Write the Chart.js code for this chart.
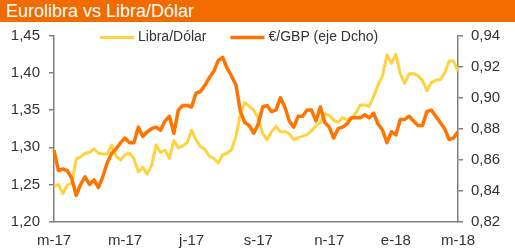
<!DOCTYPE html>
<html><head><meta charset="utf-8">
<script src="https://cdn.jsdelivr.net/npm/chart.js@4.4.1/dist/chart.umd.min.js"></script>
<style>
html,body{margin:0;padding:0;background:#fff;}
#wrap{position:relative;width:515px;height:251px;overflow:hidden;}
#title{position:absolute;left:0;top:0;width:515px;height:22px;background:#F26B00;color:#fff;font:18px "Liberation Sans",Arial,sans-serif;line-height:22px;padding-left:6px;box-sizing:border-box;white-space:nowrap;}
canvas{position:absolute;left:0;top:0;}
</style></head><body>
<div id="wrap"><canvas id="c" width="515" height="251"></canvas><div id="title">Eurolibra vs Libra/Dólar</div></div>
<script>
// Dates (sampled every ~4 days)
const dates = [
"2017-03-01","2017-03-05","2017-03-09","2017-03-13","2017-03-17","2017-03-21","2017-03-25","2017-03-29",
"2017-04-02","2017-04-06","2017-04-10","2017-04-14","2017-04-18","2017-04-22","2017-04-26","2017-04-30",
"2017-05-04","2017-05-08","2017-05-12","2017-05-16","2017-05-20","2017-05-24","2017-05-28",
"2017-06-01","2017-06-05","2017-06-09","2017-06-13","2017-06-17","2017-06-21","2017-06-25","2017-06-29",
"2017-07-03","2017-07-07","2017-07-11","2017-07-15","2017-07-19","2017-07-23","2017-07-27","2017-07-31",
"2017-08-04","2017-08-08","2017-08-12","2017-08-16","2017-08-20","2017-08-24","2017-08-28",
"2017-09-01","2017-09-05","2017-09-09","2017-09-13","2017-09-17","2017-09-21","2017-09-25","2017-09-29",
"2017-10-03","2017-10-07","2017-10-11","2017-10-15","2017-10-19","2017-10-23","2017-10-27","2017-10-31",
"2017-11-04","2017-11-08","2017-11-12","2017-11-16","2017-11-20","2017-11-24","2017-11-28",
"2017-12-02","2017-12-06","2017-12-10","2017-12-14","2017-12-18","2017-12-22","2017-12-26","2017-12-30",
"2018-01-03","2018-01-07","2018-01-11","2018-01-15","2018-01-19","2018-01-23","2018-01-27","2018-01-31",
"2018-02-04","2018-02-08","2018-02-12","2018-02-16","2018-02-20","2018-02-24","2018-03-01"
];

// Libra/Dólar (left axis)
const libraDolar = [
1.247,1.250,1.238,1.249,1.252,1.284,1.287,1.292,1.293,1.298,1.292,1.291,1.291,1.303,1.288,1.283,
1.290,1.292,1.285,1.267,1.273,1.264,1.276,1.303,1.293,1.296,1.285,1.309,1.299,1.302,1.306,1.323,
1.310,1.301,1.297,1.288,1.285,1.279,1.290,1.292,1.297,1.315,1.345,1.360,1.355,1.350,1.339,1.319,
1.310,1.321,1.328,1.321,1.321,1.318,1.310,1.313,1.315,1.317,1.322,1.329,1.333,1.345,1.343,1.336,
1.334,1.340,1.337,1.339,1.346,1.357,1.357,1.355,1.368,1.384,1.396,1.424,1.413,1.425,1.399,1.386,
1.399,1.399,1.396,1.390,1.376,1.387,1.390,1.391,1.400,1.416,1.416,1.402
];

// €/GBP (right axis)
const eurGbp = [
0.866,0.853,0.854,0.853,0.848,0.837,0.844,0.849,0.844,0.847,0.842,0.849,0.858,0.864,0.867,0.871,
0.874,0.871,0.871,0.881,0.875,0.878,0.880,0.881,0.879,0.885,0.888,0.877,0.892,0.895,0.895,0.894,
0.903,0.904,0.908,0.913,0.917,0.924,0.926,0.919,0.914,0.908,0.891,0.884,0.882,0.877,0.883,0.894,
0.895,0.891,0.892,0.900,0.894,0.885,0.881,0.888,0.888,0.892,0.892,0.885,0.894,0.884,0.881,0.874,
0.880,0.881,0.883,0.887,0.887,0.887,0.889,0.887,0.890,0.883,0.879,0.871,0.878,0.876,0.886,0.886,
0.888,0.885,0.882,0.882,0.891,0.892,0.888,0.884,0.880,0.873,0.874,0.878
];

const seriesNames = ["Libra/Dólar", "€/GBP (eje Dcho)"];
const monthInitials = ["e","f","m","a","m","j","j","a","s","o","n","d"];
const leftTicks = {min:1.20, max:1.45, step:0.05};
const rightTicks = {min:0.82, max:0.94, step:0.02};

const YELLOW = "#FFD23F", ORANGE = "#FF7300", AXIS = "#808080", TXT = "#333333";
const FONT = "'Liberation Sans', Arial, sans-serif";

const fmt = v => v.toFixed(2).replace(".", ",");

const legendPlugin = {
  id: "manualLegend",
  afterDraw(chart) {
    const ctx = chart.ctx;
    ctx.save();
    ctx.font = "14px " + FONT;
    ctx.textBaseline = "middle";
    const y = 37.5;
    let x = 100;
    const items = [{label: seriesNames[0], color: YELLOW, w: 3}, {label: seriesNames[1], color: ORANGE, w: 3.5}];
    items.forEach((it) => {
      ctx.strokeStyle = it.color;
      ctx.lineWidth = it.w;
      ctx.beginPath(); ctx.moveTo(x, y); ctx.lineTo(x + 34, y); ctx.stroke();
      ctx.fillStyle = TXT;
      ctx.fillText(it.label, x + 38, y);
      x += 38 + ctx.measureText(it.label).width + 24;
    });
    ctx.restore();
  }
};

new Chart(document.getElementById("c"), {
  type: "line",
  data: {
    labels: dates,
    datasets: [
      {label: seriesNames[1], data: eurGbp, yAxisID: "yR", borderColor: ORANGE, borderWidth: 3.5, pointRadius: 0, tension: 0, borderJoinStyle: "round"},
      {label: seriesNames[0], data: libraDolar, yAxisID: "yL", borderColor: YELLOW, borderWidth: 3, pointRadius: 0, tension: 0, borderJoinStyle: "round"}
    ]
  },
  options: {
    responsive: false,
    animation: false,
    devicePixelRatio: 1,
    layout: {padding: {top: 35.7, left: 0, right: 0, bottom: 0}},
    plugins: {legend: {display: false}, tooltip: {enabled: false}, title: {display: false}},
    scales: {
      x: {
        grid: {display: false, drawTicks: false},
        border: {display: true, color: AXIS, width: 1.5},
        ticks: {
          autoSkip: false, maxRotation: 0, padding: 10, color: TXT, font: {family: FONT, size: 15},
          callback: function(value, index) {
            const d = dates[index];
            const m = +d.slice(5, 7);
            const prev = index > 0 ? +dates[index - 1].slice(5, 7) : -1;
            if (m !== prev && m % 2 === 1) return monthInitials[m - 1] + "-" + d.slice(2, 4);
            return "";
          }
        },
        afterFit: s => { s.height = 29.3; }
      },
      yL: {
        position: "left", min: leftTicks.min, max: leftTicks.max,
        grid: {drawOnChartArea: false, drawTicks: true, tickLength: 5, color: AXIS, lineWidth: 1.5},
        border: {display: true, color: AXIS, width: 1.5},
        ticks: {stepSize: leftTicks.step, padding: 9, color: TXT, font: {family: FONT, size: 15}, callback: v => fmt(v)},
        afterFit: s => { s.width = 54; }
      },
      yR: {
        position: "right", min: rightTicks.min, max: rightTicks.max,
        grid: {drawOnChartArea: false, drawTicks: true, tickLength: 5, color: AXIS, lineWidth: 1.5},
        border: {display: true, color: AXIS, width: 1.5},
        ticks: {stepSize: rightTicks.step, padding: 8, color: TXT, font: {family: FONT, size: 15}, callback: v => fmt(v)},
        afterFit: s => { s.width = 57; }
      }
    }
  },
  plugins: [legendPlugin]
});
</script>
</body></html>
